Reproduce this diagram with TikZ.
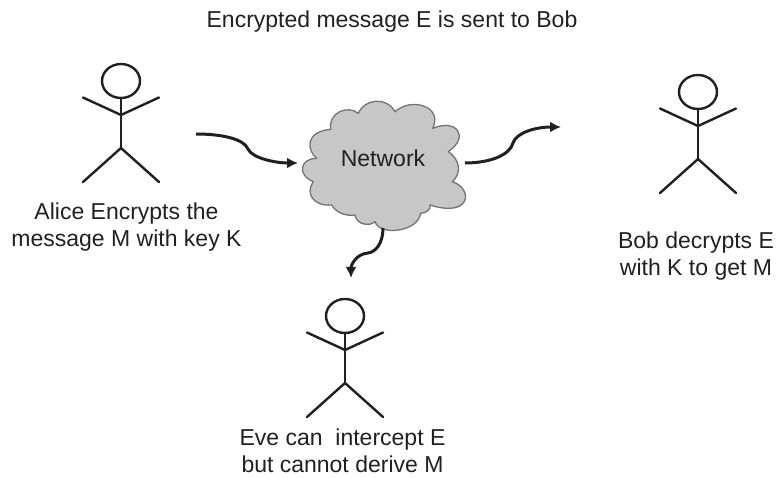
\documentclass[tikz,border=0pt]{standalone}
\usepackage{fontspec}
\setmainfont{Liberation Sans}
\usetikzlibrary{arrows.meta,shapes.geometric}
\definecolor{ink}{HTML}{231F20}
\tikzset{
  stick/.style={draw=ink,line width=2.4pt,line cap=round},
  headshape/.style={ellipse,draw=ink,line width=2.4pt,minimum width=38pt,minimum height=34pt,inner sep=0pt},
  flow/.style={draw=ink,line width=3pt,-{Latex[length=11pt,width=11pt]}},
  lab/.style={font=\fontsize{23}{27}\selectfont,text=ink,align=center,inner sep=0pt,anchor=base},
  cloudshape/.style={draw=black!55,fill=black!22,line width=1.3pt,line join=round}
}
\newcommand{\stickman}[3]{%
  \node[headshape] (#1head) at (#2,#3) {};
  \coordinate (#1hip) at (#2,#3+67);
  \coordinate (#1sh) at (#2,#3+34);
  \coordinate (#1la) at (#2-38,#3+16.5);
  \coordinate (#1ra) at (#2+38,#3+16.5);
  \coordinate (#1ll) at (#2-38,#3+101);
  \coordinate (#1rl) at (#2+38,#3+101);
  \draw[stick] (#1head.south) -- (#1hip);
  \draw[stick] (#1la) -- (#1sh) -- (#1ra);
  \draw[stick] (#1ll) -- (#1hip) -- (#1rl);
}
\begin{document}
\begin{tikzpicture}[x=1pt,y=-1pt]
\useasboundingbox (0,0) rectangle (777,478);
\begin{scope}[xshift=290pt,yshift=-50pt,x=0.3333pt,y=-0.3333pt]
\draw[cloudshape] (80,325)
  .. controls (50,300) and (45,245) .. (122,238)
  .. controls (115,185) and (175,165) .. (205,190)
  .. controls (225,145) and (290,140) .. (315,185)
  .. controls (365,140) and (460,170) .. (428,235)
  .. controls (500,205) and (540,260) .. (475,305)
  .. controls (505,325) and (520,365) .. (487,395)
  .. controls (550,415) and (545,505) .. (420,465)
  .. controls (425,475) and (410,490) .. (392,490)
  .. controls (385,545) and (270,560) .. (255,515)
  .. controls (240,530) and (200,525) .. (195,495)
  .. controls (165,500) and (135,485) .. (125,465)
  .. controls (70,470) and (45,430) .. (70,395)
  .. controls (20,375) and (30,325) .. (80,325) -- cycle;
\end{scope}
\node[lab] (net) at (383,167) {Network};
\stickman{alice}{121}{81}
\stickman{bob}{698}{92}
\stickman{eve}{345}{316}
\coordinate (a0) at (196,134);
\coordinate (a1) at (248,149);
\coordinate (a2) at (298,163);
\draw[flow] (a0) .. controls (222,134) and (244,139) .. (a1) .. controls (252,158) and (275,163) .. (a2);
\coordinate (b0) at (465,163);
\coordinate (b1) at (513,143);
\coordinate (b2) at (561,127);
\draw[flow] (b0) .. controls (490,163) and (510,155) .. (b1) .. controls (516,133) and (535,127) .. (b2);
\coordinate (c0) at (383,228);
\coordinate (c1) at (368,253);
\coordinate (c2) at (351,278);
\draw[flow] (c0) .. controls (383,243) and (376,252) .. (c1) .. controls (356,254) and (351,265) .. (c2);
\node[lab] (top) at (392,28) {Encrypted message E is sent to Bob};
\node[lab] (alicet) at (126.5,247) {Alice Encrypts the\\message M with key K};
\node[lab] (bobt) at (696,276) {Bob decrypts E\\with K to get M};
\node[lab] (evet) at (342.5,472) {Eve can~ intercept E\\but cannot derive M};
\end{tikzpicture}
\end{document}
